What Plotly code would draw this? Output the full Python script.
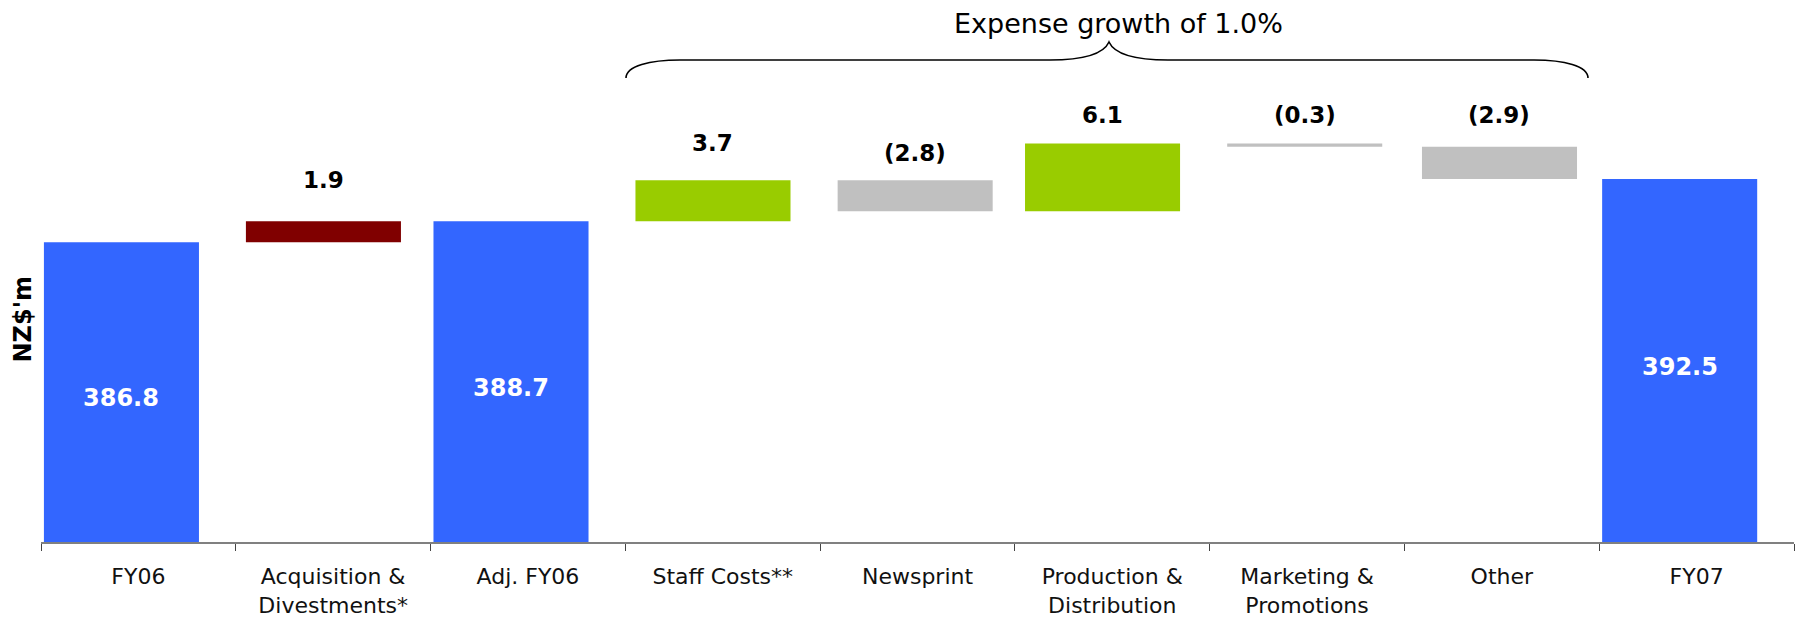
import plotly.graph_objects as go

# ---- data -------------------------------------------------------------
categories = [
    "FY06", "Acquisition &<br>Divestments*", "Adj. FY06", "Staff Costs**",
    "Newsprint", "Production &<br>Distribution", "Marketing &<br>Promotions",
    "Other", "FY07",
]
values = [386.8, 1.9, 388.7, 3.7, -2.8, 6.1, -0.3, -2.9, 392.5]
is_total = [True, False, True, False, False, False, False, False, True]
brace_text = "Expense growth of 1.0%"
y_label = "NZ$'m"

# ---- style ------------------------------------------------------------
BLUE = "#3366FF"
RED = "#800000"
GREEN = "#99CC00"
GREY = "#C0C0C0"
bar_colors = [BLUE, RED, BLUE, GREEN, GREY, GREEN, GREY, GREY, BLUE]
FONT = "DejaVu Sans"

W, H = 1797, 617
M_L, M_R, M_T, M_B = 41, 3, 20, 75
PLOT_W = W - M_L - M_R
PLOT_H = H - M_T - M_B
Y0 = 359.8                      # value at the category axis line
PX_PER_UNIT = 11.1
Y1 = Y0 + PLOT_H / PX_PER_UNIT

BAR_W = 0.796
OFF_TOTAL, OFF_UP, OFF_DOWN = -0.485, -0.448, -0.41
# vertical lift (px) of each change label above the top of its bar
label_lift = {1: 41, 3: 37, 4: 27.5, 5: 28.5, 6: 29, 7: 31.7}
TOTAL_LABEL_DROP = -6           # total labels sit slightly below bar middle

# ---- waterfall geometry from the values -------------------------------
bases, heights, offsets = [], [], []
running = 0.0
for v, tot in zip(values, is_total):
    if tot:
        # total columns stand on the axis floor
        bases.append(Y0)
        heights.append(v - Y0)
        offsets.append(OFF_TOTAL)
        running = v
    else:
        bases.append(running)
        heights.append(v)
        offsets.append(OFF_UP if v > 0 else OFF_DOWN)
        running += v

fig = go.Figure()
fig.add_trace(go.Bar(
    x=categories, y=heights, base=bases,
    width=BAR_W, offset=offsets,
    marker=dict(color=bar_colors, line=dict(width=0)),
    textposition="none",
    hoverinfo="skip",
))

annotations = []
for i, (v, tot) in enumerate(zip(values, is_total)):
    xc = i + offsets[i] + BAR_W / 2
    xp = (xc + 0.5) / len(categories)
    if tot:
        annotations.append(dict(
            x=xp, xref="paper", y=(Y0 + v) / 2, yref="y",
            yshift=TOTAL_LABEL_DROP,
            text=f"{v:.1f}", showarrow=False,
            xanchor="center", yanchor="middle",
            font=dict(family=FONT, size=24, color="white", weight="bold"),
        ))
        continue
    top = bases[i] + max(v, 0)
    lab = f"{v:.1f}" if v > 0 else f"({abs(v):.1f})"
    annotations.append(dict(
        x=xp, xref="paper", y=top, yref="y", yshift=label_lift[i],
        text=lab, showarrow=False, xanchor="center", yanchor="middle",
        font=dict(family=FONT, size=23, color="black", weight="bold"),
    ))


def px_to_paper(px, py):
    return (px - M_L) / PLOT_W, (H - M_B - py) / PLOT_H


# curly brace over the expense categories (pixel outline -> paper coords)
brace_px = [
    ("M", [(626, 78)]),
    ("C", [(626, 66), (650, 60), (680, 60)]),
    ("L", [(1050, 60)]),
    ("C", [(1086, 60), (1104, 53), (1109, 42)]),
    ("C", [(1114, 53), (1132, 60), (1168, 60)]),
    ("L", [(1534, 60)]),
    ("C", [(1564, 60), (1588, 66), (1588, 78)]),
]
path = ""
for cmd, pts in brace_px:
    path += cmd + " " + " ".join(
        "{:.5f},{:.5f}".format(*px_to_paper(*p)) for p in pts) + " "

shapes = [dict(type="path", path=path.strip(), xref="paper", yref="paper",
               line=dict(color="black", width=1.6))]

tx, ty = px_to_paper(1118, 23)
annotations.append(dict(
    x=tx, y=ty, xref="paper", yref="paper", text=brace_text,
    showarrow=False, xanchor="center", yanchor="middle",
    font=dict(family=FONT, size=27, color="black"),
))

lx, ly = px_to_paper(22.5, 319)
annotations.append(dict(
    x=lx, y=ly, xref="paper", yref="paper", text=y_label, textangle=-90,
    showarrow=False, xanchor="center", yanchor="middle",
    font=dict(family=FONT, size=24, color="black", weight="bold"),
))

fig.update_layout(
    width=W, height=H,
    margin=dict(l=M_L, r=M_R, t=M_T, b=M_B, pad=0, autoexpand=False),
    paper_bgcolor="white", plot_bgcolor="white",
    showlegend=False, barmode="overlay",
    annotations=annotations, shapes=shapes,
    xaxis=dict(
        type="category", range=[-0.5, len(categories) - 0.5],
        tickson="boundaries", ticks="outside", ticklen=7, tickwidth=1,
        tickcolor="#444444", ticklabelstandoff=14, automargin=False,
        showline=True, linecolor="#808080", linewidth=2,
        showgrid=False, zeroline=False,
        tickfont=dict(family=FONT, size=22, color="#111111"),
        fixedrange=True,
    ),
    yaxis=dict(
        range=[Y0, Y1], showticklabels=False, showgrid=False,
        zeroline=False, showline=False, ticks="", fixedrange=True,
        automargin=False,
    ),
)

fig.write_html("out.html")
